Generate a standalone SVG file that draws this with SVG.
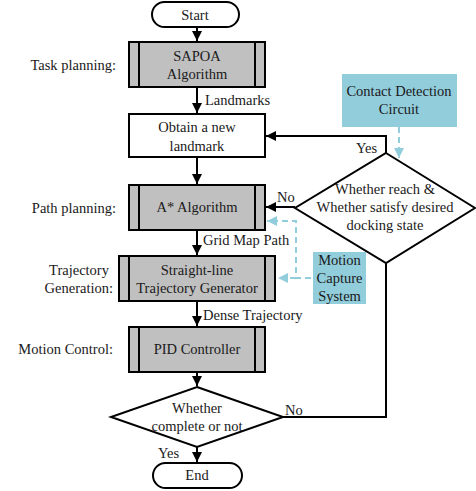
<svg xmlns="http://www.w3.org/2000/svg" width="476" height="491" viewBox="0 0 476 491" font-family="Liberation Serif, Times New Roman, serif">
<style>
text{font-family:'Liberation Serif','Times New Roman',Times,serif;font-size:14.5px;fill:#1a1a1a}
.c{text-anchor:middle}
.r{text-anchor:end}
.box{fill:#fff;stroke:#000;stroke-width:2}
.proc{fill:#c0c0c0;stroke:#000;stroke-width:2}
.inner{stroke:#000;stroke-width:2}
.blue{fill:#92cddc;stroke:none}
.ln{fill:none;stroke:#000;stroke-width:2}
.dash{fill:none;stroke:#92cddc;stroke-width:2;stroke-dasharray:6,4}
</style>
<defs>
<marker id="ah" viewBox="0 0 10 10" refX="10" refY="5" markerWidth="5" markerHeight="5" orient="auto" markerUnits="strokeWidth"><path d="M0,0L10,5L0,10z" fill="#000"/></marker>
<marker id="bh" viewBox="0 0 10 10" refX="10" refY="5" markerWidth="5" markerHeight="5" orient="auto" markerUnits="strokeWidth"><path d="M0,0L10,5L0,10z" fill="#92cddc"/></marker>
</defs>
<g id="labels">
<text class="r" x="116" y="70">Task planning:</text>
<text class="r" x="116" y="213">Path planning:</text>
<text class="c" x="79" y="275">Trajectory</text>
<text class="r" x="113" y="293">Generation:</text>
<text class="r" x="113" y="354">Motion Control:</text>
</g>
<g id="connectors">
<path class="ln" d="M197,27V41" marker-end="url(#ah)"/>
<path class="ln" d="M197,87V113" marker-end="url(#ah)"/>
<text x="205" y="105">Landmarks</text>
<path class="ln" d="M197,157V184" marker-end="url(#ah)"/>
<path class="ln" d="M197,230V255" marker-end="url(#ah)"/>
<text x="203" y="245">Grid Map Path</text>
<path class="ln" d="M197,301V326" marker-end="url(#ah)"/>
<text x="203" y="320">Dense Trajectory</text>
<path class="ln" d="M197,372V386" marker-end="url(#ah)"/>
<path class="ln" d="M197,447V462" marker-end="url(#ah)"/>
<text x="158" y="458">Yes</text>
<path class="ln" d="M386,153V136H266" marker-end="url(#ah)"/>
<text x="356" y="153">Yes</text>
<path class="ln" d="M295,207H266" marker-end="url(#ah)"/>
<text x="277" y="202">No</text>
<path class="ln" d="M386,263V417H283"/>
<text x="285" y="415">No</text>
<path class="dash" d="M399,127V158" marker-end="url(#bh)"/>
<path class="dash" d="M311,278H296V221H267" marker-end="url(#bh)"/>
<path class="dash" d="M296,278H278" marker-end="url(#bh)"/>
</g>
<g id="start">
<rect class="box" x="152" y="2" width="87" height="25" rx="12.5"/>
<text class="c" x="195" y="19.5">Start</text>
</g>
<g id="sapoa">
<rect class="proc" x="129" y="42" width="136" height="45"/>
<path class="inner" d="M139,42V87M255,42V87"/>
<text class="c" x="197" y="61">SAPOA</text>
<text class="c" x="197" y="79">Algorithm</text>
</g>
<g id="obtain">
<rect class="box" x="129" y="114" width="136" height="43"/>
<text class="c" x="197" y="132">Obtain a new</text>
<text class="c" x="197" y="151">landmark</text>
</g>
<g id="astar">
<rect class="proc" x="129" y="185" width="136" height="45"/>
<path class="inner" d="M139,185V230M255,185V230"/>
<text class="c" x="197" y="212">A* Algorithm</text>
</g>
<g id="straight">
<rect class="proc" x="119" y="256" width="156" height="45"/>
<path class="inner" d="M129,256V301M265,256V301"/>
<text class="c" x="197" y="275">Straight-line</text>
<text class="c" x="197" y="293">Trajectory Generator</text>
</g>
<g id="pid">
<rect class="proc" x="129" y="327" width="136" height="45"/>
<path class="inner" d="M139,327V372M255,327V372"/>
<text class="c" x="197" y="354">PID Controller</text>
</g>
<g id="complete">
<path class="box" d="M197,387L283,417L197,447L111,417z"/>
<text class="c" x="197" y="413">Whether</text>
<text class="c" x="197" y="431">complete or not</text>
</g>
<g id="end">
<rect class="box" x="153" y="463" width="89" height="25" rx="12.5"/>
<text class="c" x="197" y="480">End</text>
</g>
<g id="reach">
<path class="box" d="M386,153L475,208L386,263L295,208z"/>
<text class="c" x="385" y="194">Whether reach &amp;</text>
<text class="c" x="385" y="212">Whether satisfy desired</text>
<text class="c" x="385" y="230">docking state</text>
</g>
<g id="contact">
<rect class="blue" x="342" y="74" width="115" height="53"/>
<text class="c" x="399" y="96">Contact Detection</text>
<text class="c" x="399" y="114">Circuit</text>
</g>
<g id="mocap">
<rect class="blue" x="313" y="252" width="53" height="52"/>
<text class="c" x="339.5" y="265">Motion</text>
<text class="c" x="339.5" y="283">Capture</text>
<text class="c" x="339.5" y="301">System</text>
</g>
</svg>
